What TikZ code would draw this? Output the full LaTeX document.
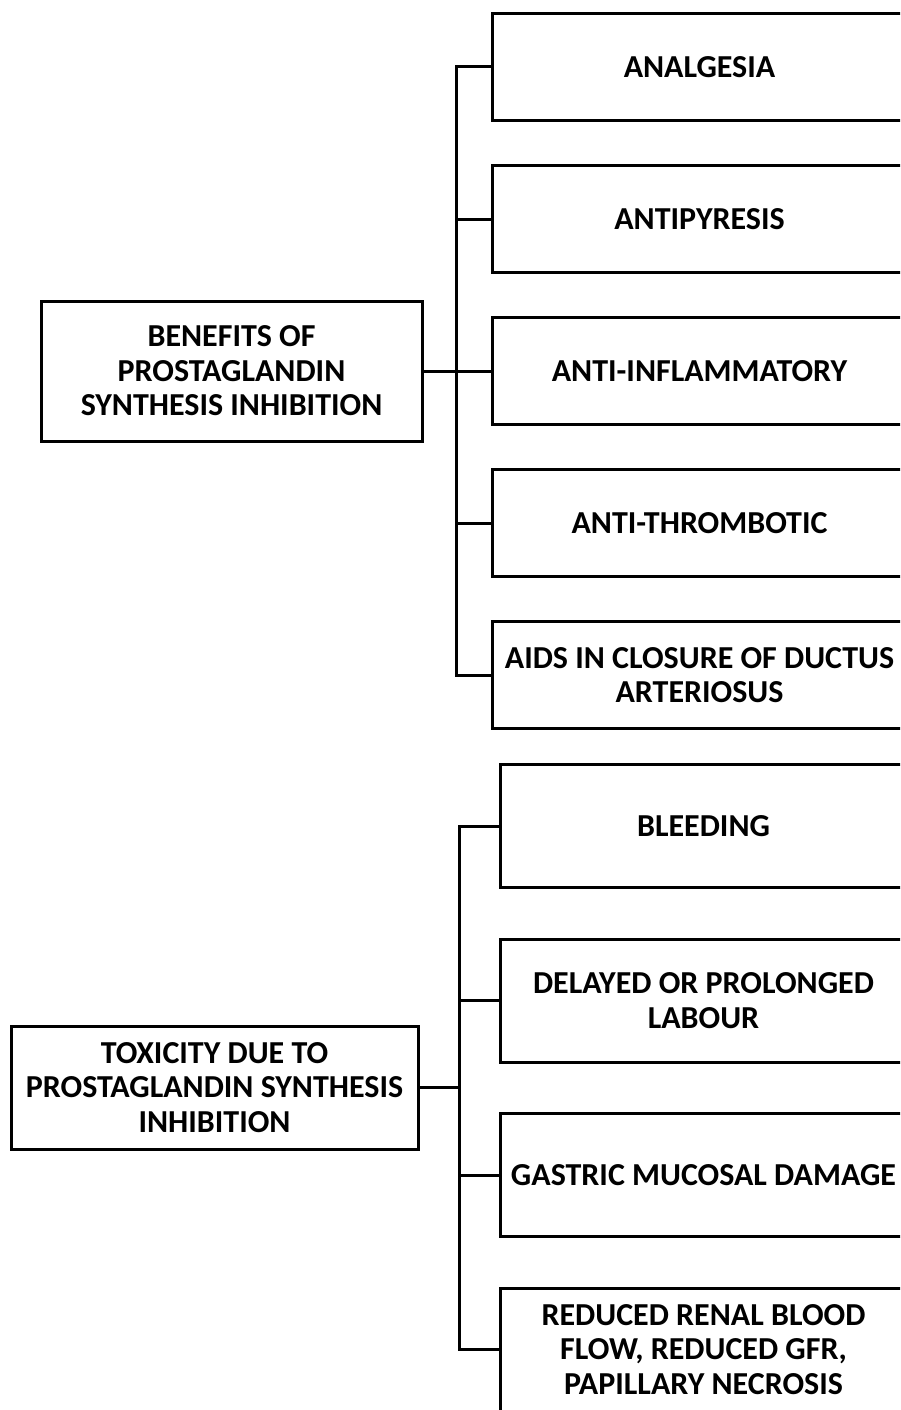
\documentclass[tikz,border=0pt]{standalone}
\usepackage{fontspec}
\setmainfont{Carlito}
\usetikzlibrary{positioning}

\begin{document}
\begin{tikzpicture}[
    x=1pt, y=-1pt,
    every node/.style={font=\fontsize{32}{34.5}\selectfont\bfseries},
    rootbox/.style={rectangle, draw, line width=3pt, align=center, inner sep=0pt},
    leafbox/.style={rectangle, draw, line width=3pt, align=center, inner sep=0pt, anchor=west},
    link/.style={line width=3pt}
]
\useasboundingbox (0,0) rectangle (900,1410);
\clip (0,0) rectangle (900,1410);

% benefits
\node[rootbox, minimum width=381, minimum height=140] (benefits) at (231.5,371) {BENEFITS OF\\PROSTAGLANDIN\\SYNTHESIS INHIBITION};
\coordinate (bspine) at (456,371);
\node[leafbox, minimum width=414, minimum height=107] (analgesia) at (491,67) {ANALGESIA};
\node[leafbox, minimum width=414, minimum height=107] (antipyresis) at (491,219) {ANTIPYRESIS};
\node[leafbox, minimum width=414, minimum height=107] (antiinfl) at (491,371) {ANTI-INFLAMMATORY};
\node[leafbox, minimum width=414, minimum height=107] (antithromb) at (491,523) {ANTI-THROMBOTIC};
\node[leafbox, minimum width=414, minimum height=107] (ductus) at (491,675) {AIDS IN CLOSURE OF DUCTUS\\ARTERIOSUS};

\draw[link] (benefits) -- (bspine);
\draw[link] (bspine) |- (analgesia.west);
\draw[link] (bspine) |- (antipyresis.west);
\draw[link] (bspine) -- (antiinfl.west);
\draw[link] (bspine) |- (antithromb.west);
\draw[link] (bspine) |- (ductus.west);

% toxicity
\node[rootbox, minimum width=407, minimum height=123] (toxicity) at (214.5,1087.5) {TOXICITY DUE TO\\PROSTAGLANDIN SYNTHESIS\\INHIBITION};
\coordinate (tspine) at (459,1087.5);
\node[leafbox, minimum width=406, minimum height=123] (bleeding) at (499,826) {BLEEDING};
\node[leafbox, minimum width=406, minimum height=123] (labour) at (499,1000.5) {DELAYED OR PROLONGED\\LABOUR};
\node[leafbox, minimum width=406, minimum height=123] (gastric) at (499,1175) {GASTRIC MUCOSAL DAMAGE};
\node[leafbox, minimum width=406, minimum height=123] (renal) at (499,1349.5) {REDUCED RENAL BLOOD\\FLOW, REDUCED GFR,\\PAPILLARY NECROSIS};

\draw[link] (toxicity) -- (tspine);
\draw[link] (tspine) |- (bleeding.west);
\draw[link] (tspine) |- (labour.west);
\draw[link] (tspine) |- (gastric.west);
\draw[link] (tspine) |- (renal.west);
\end{tikzpicture}
\end{document}
